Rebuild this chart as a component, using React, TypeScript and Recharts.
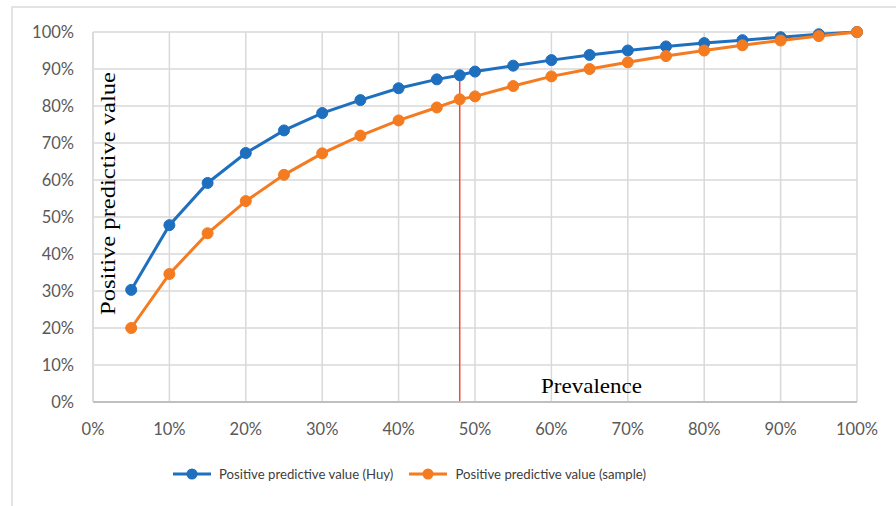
import { CartesianGrid, Legend, Line, LineChart, ReferenceLine, XAxis, YAxis } from 'recharts';

// Prevalence (%) and PPV (%)
const prevalence = [5, 10, 15, 20, 25, 30, 35, 40, 45, 48, 50, 55, 60, 65, 70, 75, 80, 85, 90, 95, 100];
const ppvHuy = [30.3, 47.8, 59.2, 67.3, 73.4, 78.1, 81.6, 84.8, 87.2, 88.3, 89.3, 90.9, 92.4, 93.8, 95.0, 96.1, 97.0, 97.8, 98.6, 99.4, 100];
const ppvSample = [20.0, 34.6, 45.6, 54.3, 61.4, 67.2, 72.0, 76.1, 79.6, 81.8, 82.6, 85.4, 88.0, 90.0, 91.8, 93.5, 95.0, 96.4, 97.7, 98.9, 100];
const ticks = [0, 10, 20, 30, 40, 50, 60, 70, 80, 90, 100];
const cutoff = 48;

const BLUE = '#1f6fbf';
const ORANGE = '#f47b20';

const data = prevalence.map((p, i) => ({ x: p, huy: ppvHuy[i], sample: ppvSample[i] }));

const tickStyle = { fontSize: 16.5, fill: '#595959', fontFamily: 'Lato, sans-serif' };

function LegendContent() {
  const items = [
    { color: BLUE, label: 'Positive predictive value (Huy)' },
    { color: ORANGE, label: 'Positive predictive value (sample)' },
  ];
  return (
    <div style={{ display: 'flex', paddingLeft: 172, gap: 15, fontFamily: 'Lato, sans-serif', fontSize: 13.2, color: '#404040' }}>
      {items.map((it) => (
        <div key={it.label} style={{ display: 'flex', alignItems: 'center', gap: 7 }}>
          <svg width={40} height={14}>
            <line x1={1} y1={7} x2={39} y2={7} stroke={it.color} strokeWidth={3} />
            <circle cx={20} cy={7} r={5.5} fill={it.color} />
          </svg>
          <span>{it.label}</span>
        </div>
      ))}
    </div>
  );
}

export default function App() {
  return (
    <div style={{ position: 'absolute', left: 0, top: 0, width: 896, height: 506, background: '#fff' }}>
      <div style={{ position: 'absolute', left: 11, top: 6, width: 900, height: 520, border: '2px solid #e3e3e3' }} />
      <LineChart width={896} height={506} data={data} margin={{ top: 32, right: 39, left: 13, bottom: 58 }}>
        <CartesianGrid stroke="#d9d9d9" strokeWidth={1.5} />
        <XAxis
          dataKey="x"
          type="number"
          domain={[0, 100]}
          ticks={ticks}
          tickFormatter={(v: number) => `${v}%`}
          tick={tickStyle}
          tickLine={false}
          tickSize={0}
          tickMargin={21}
          height={30}
          axisLine={{ stroke: '#bfbfbf', strokeWidth: 2 }}
          interval={0}
        />
        <YAxis
          type="number"
          domain={[0, 100]}
          ticks={ticks}
          tickFormatter={(v: number) => `${v}%`}
          tick={tickStyle}
          tickLine={false}
          tickSize={0}
          tickMargin={19}
          width={80}
          axisLine={{ stroke: '#d9d9d9', strokeWidth: 1.5 }}
          interval={0}
        />
        <ReferenceLine
          segment={[
            { x: cutoff, y: 0 },
            { x: cutoff, y: ppvHuy[prevalence.indexOf(cutoff)] },
          ]}
          stroke="#f04a3a"
          strokeWidth={1.5}
        />
        <Line
          dataKey="huy"
          stroke={BLUE}
          strokeWidth={3}
          dot={{ r: 5.5, fill: BLUE, stroke: BLUE, strokeWidth: 1 }}
          activeDot={false}
          isAnimationActive={false}
        />
        <Line
          dataKey="sample"
          stroke={ORANGE}
          strokeWidth={3}
          dot={{ r: 5.5, fill: ORANGE, stroke: ORANGE, strokeWidth: 1 }}
          activeDot={false}
          isAnimationActive={false}
        />
        <Legend content={<LegendContent />} wrapperStyle={{ position: 'absolute', left: 0, top: 466, width: 896 }} />
        <text
          x={115}
          y={193.5}
          transform="rotate(-90 115 193.5)"
          textAnchor="middle"
          fontFamily="'Liberation Serif', serif"
          fontSize={22}
          textLength={243}
          lengthAdjust="spacingAndGlyphs"
          fill="#000"
        >
          Positive predictive value
        </text>
        <text
          x={591.5}
          y={393}
          textAnchor="middle"
          fontFamily="'Liberation Serif', serif"
          fontSize={22}
          textLength={101}
          lengthAdjust="spacingAndGlyphs"
          fill="#000"
        >
          Prevalence
        </text>
      </LineChart>
    </div>
  );
}
